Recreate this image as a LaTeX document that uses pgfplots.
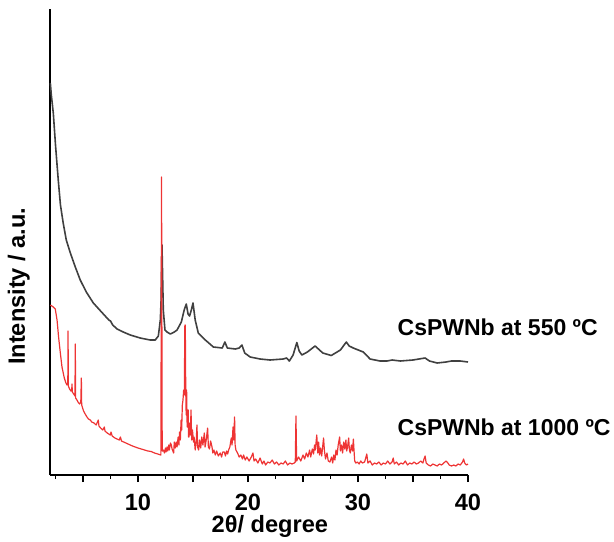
\documentclass[border=0pt]{standalone}
\usepackage{fontspec}
\setmainfont{Liberation Sans}
\usepackage{pgfplots}
\pgfplotsset{compat=1.18}
\usepackage{pgfplotstable}

\definecolor{curvegray}{RGB}{64,64,64}
\definecolor{curvered}{RGB}{238,52,52}

% sample calcined at 550 C
\pgfplotstableread{
x y
2.03 392
2.12 380
2.3 362
2.5 330
2.75 295
2.95 270
3.2 252
3.48 235
3.85 222
4.3 208
4.75 195
5.3 183
5.94 172
6.6 164
7.1 158
7.35 155
7.5 154
7.7 150
8.1 146
8.66 143
9.3 140
10.2 137
11.1 135
11.57 135
11.85 139
12.03 155
12.1 175
12.18 230
12.3 165
12.45 145
12.64 143
12.94 141
13.3 143
13.55 145
13.94 153
14.2 165
14.39 171
14.55 161
14.69 159
14.85 165
15.0 172
15.2 155
15.48 142
16.12 135
16.85 128
17.66 127
17.9 133
18.12 127
18.85 126
19.2 127
19.45 130
19.7 122
20.2 118
21.1 116
22.0 115
23.2 116
23.5 117
23.76 114
24.1 120
24.44 132.5
24.65 124
24.9 120
25.4 123
26.1 129
26.8 122
27.57 119.5
28.4 125
28.94 133
29.2 129
29.57 127
30.48 123
31.1 116
32.0 114
32.64 114
33.1 115
33.85 114
35.0 115
36.1 117
36.5 114
37.2 112
38.0 113
38.5 114
39.3 114
40.0 113
}\lowT

% sample calcined at 1000 C
\pgfplotstableread{
x y
2.03 170
2.3 168
2.48 166
2.64 155
2.78 138
2.94 122
3.09 108
3.3 97
3.45 92
3.55 90
3.62 92
3.64 144
3.67 89
3.78 86
3.9 84
3.98 86
4.0 91
4.03 83
4.15 81
4.27 79
4.3 131
4.33 77
4.45 75
4.6 72
4.7 71
4.8 73
4.85 97
4.88 70
5.05 64
5.2 61
5.36 58
5.5 56
5.66 55
5.8 53
6.0 52
6.2 50
6.39 55
6.45 49
6.6 47
6.8 45
6.94 48
7.0 44
7.2 42
7.48 40
7.55 43
7.65 39
7.9 37
8.1 36
8.3 35
8.4 38
8.5 34
8.7 33
8.9 32
9.1 31
9.3 30
9.5 29
9.75 28
10.0 27
10.3 26
10.6 25
10.9 24
11.2 23.5
11.5 22
11.8 21
12.08 20
12.14 298
12.2 24
12.25 24
12.33 25
12.4 22
12.5 27
12.55 23
12.64 28
12.7 24
12.8 30
12.85 25
12.95 32
13.03 30
13.1 26
13.24 22
13.3 33
13.38 27
13.48 33
13.55 28
13.65 38
13.72 30
13.78 43
13.85 35
13.92 55
13.97 45
14.03 70
14.09 75
14.15 85
14.21 80
14.26 150
14.3 150
14.34 85
14.38 60
14.42 85
14.47 48
14.51 48
14.56 65
14.6 38
14.64 38
14.7 52
14.76 40
14.82 65
14.88 35
14.95 45
15.05 33
15.1 38
15.2 25
15.3 35
15.36 50
15.42 28
15.51 25
15.6 35
15.7 27
15.8 38
15.9 30
16.03 42
16.1 28
16.2 35
16.33 47
16.4 28
16.5 26
16.6 34
16.73 28
16.8 22
16.9 25
17.03 20
17.15 24
17.3 19
17.48 22
17.6 18
17.7 23
17.85 23
17.95 19
18.05 24
18.15 21
18.24 25
18.35 28
18.48 37
18.55 30
18.64 48
18.7 35
18.78 58
18.83 30
18.9 25
19.05 22
19.2 18
19.35 20
19.5 16
19.6 20
19.75 15
19.9 18
20.1 14
20.3 18
20.45 22
20.55 14
20.7 16
20.9 12
21.1 17
21.3 11
21.45 14
21.6 10
21.8 13
22.0 12
22.2 15
22.4 11
22.6 13
22.8 10
23.0 12
23.2 11
23.4 14
23.6 10
23.8 12
24.0 11
24.2 12
24.3 13
24.36 59
24.42 14
24.6 18
24.8 14
25.0 20
25.15 16
25.3 22
25.45 18
25.6 25
25.7 18
25.85 26
25.96 21
26.05 30
26.12 25
26.25 40
26.35 22
26.42 33
26.5 20
26.6 27
26.7 19
26.87 37
26.95 24
27.05 16
27.18 22
27.3 14
27.45 13
27.6 18
27.7 12
27.8 20
27.9 15
28.0 25
28.1 20
28.2 30
28.33 38
28.4 24
28.5 30
28.6 22
28.7 33
28.8 26
28.9 35
28.97 24
29.05 28
29.15 37
29.22 25
29.3 22
29.4 30
29.5 24
29.58 36
29.63 26
29.7 14
29.8 12
29.95 13
30.1 11
30.25 14
30.4 12
30.6 13
30.8 21
30.9 12
31.1 14
31.3 10
31.5 12
31.7 11
31.9 13
32.1 10
32.3 12
32.5 11
32.7 14
32.9 11
33.1 13
33.2 17
33.3 11
33.5 13
33.7 10
33.9 12
34.1 11
34.3 14
34.5 10
34.7 12
34.9 11
35.1 13
35.3 11
35.5 12
35.7 14
35.9 12
36.0 16
36.1 19
36.2 12
36.4 10
36.6 9
36.8 11
37.0 10
37.2 9
37.4 11
37.6 10
37.8 12
38.0 14
38.1 13
38.3 10
38.5 9
38.7 10
38.9 9
39.1 11
39.3 10
39.5 13
39.6 16
39.7 12
39.85 10
40.0 11
}\highT

\begin{document}
\begin{tikzpicture}
\useasboundingbox (-25pt,-33pt) rectangle (282pt,237.5pt);
\begin{axis}[
  scale only axis,
  width=209pt, height=233pt,
  at={(0,0)}, anchor=south west,
  xmin=2, xmax=40,
  ymin=0, ymax=466,
  axis x line=bottom, axis y line=left,
  axis line style={-, line width=1pt, black},
  xtick={5,10,...,40},
  xticklabels={,10,,20,,30,,40},
  minor xtick={2.5,7.5,...,37.5},
  ytick=\empty,
  tick align=outside,
  major tick length=3.5pt,
  minor tick length=2pt,
  tick style={line width=0.75pt, black},
  /pgf/number format/assume math mode=true,
  ticklabel style={font=\fontsize{11.8}{13}\selectfont\bfseries},
  xticklabel style={anchor=base, yshift=-14pt},
  xlabel={2θ/ degree},
  xlabel style={font=\fontsize{11.8}{13}\selectfont\bfseries,
    at={(axis description cs:0.526,0)}, anchor=base, yshift=-28.5pt},
  ylabel={Intensity / a.u.},
  ylabel style={font=\fontsize{11.8}{13}\selectfont\bfseries,
    at={(axis description cs:-0.06,0.405)}, anchor=base},
  clip=false,
]
\addplot[curvegray, line width=0.8pt, line join=round] table[x=x, y=y] {\lowT};
\addplot[curvered, line width=0.6pt, line join=round] table[x=x, y=y] {\highT};
\node[anchor=base west, inner sep=0pt, font=\fontsize{11.5}{13}\selectfont\bfseries]
  at (axis cs:33.57,140) {CsPWNb at 550 ºC};
\node[anchor=base west, inner sep=0pt, font=\fontsize{11.5}{13}\selectfont\bfseries]
  at (axis cs:33.57,40) {CsPWNb at 1000 ºC};
\end{axis}
\end{tikzpicture}
\end{document}
